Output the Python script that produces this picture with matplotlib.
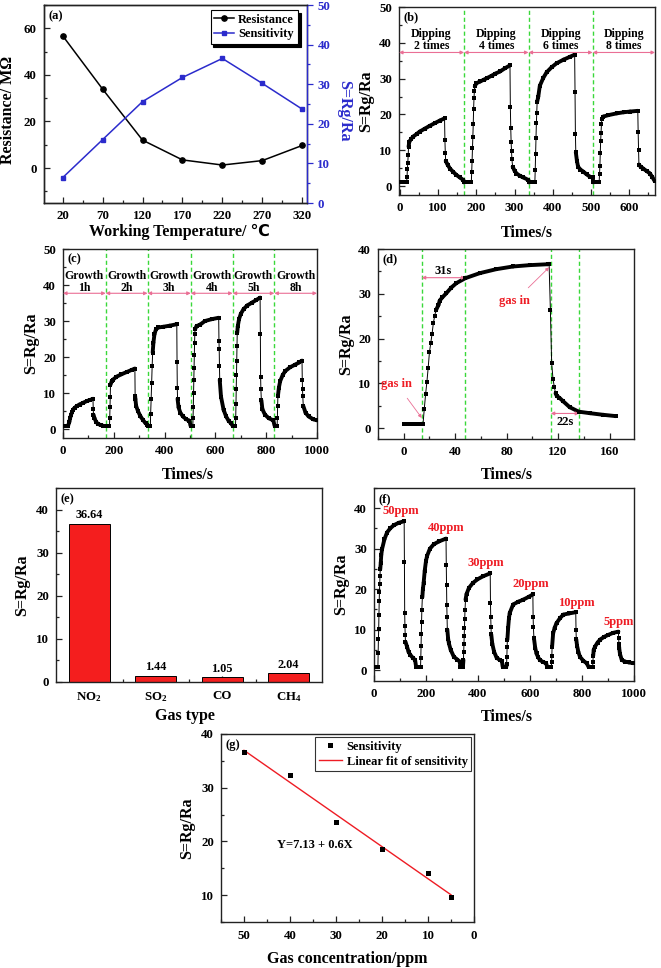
import numpy as np
import matplotlib
matplotlib.use("Agg")
import matplotlib.pyplot as plt
from matplotlib.collections import LineCollection
from matplotlib.ticker import MultipleLocator, FixedLocator

# ---------------- data ----------------
temps = [20, 70, 120, 170, 220, 270, 320]
resistance = [56.8, 33.9, 12.0, 3.5, 1.3, 3.2, 9.7]
sens_temp = [6.4, 16.0, 25.6, 31.7, 36.5, 30.2, 23.7]

b_t = [0, 4, 8, 12, 16, 18, 19, 20, 21, 22, 23, 25, 30, 35, 45, 52, 65, 78, 92, 105, 117,
       118, 119, 120, 125, 131, 140, 148, 157, 166, 168, 175, 182, 187,
       188, 189, 190, 191, 192, 193, 194, 195, 196, 200, 210, 220, 227, 240, 250, 262, 275, 288,
       289, 290, 291, 292, 293, 295, 300, 305, 315, 323, 336, 338, 344, 350, 353,
       354, 355, 356, 357, 358, 359, 362, 366, 375, 384, 397, 410, 428, 445, 457,
       458, 459, 460, 463, 466, 472, 480, 488, 497, 504, 506, 512, 518, 521,
       522, 523, 524, 525, 526, 527, 528, 532, 545, 567, 585, 602, 622,
       623, 624, 625, 630, 636, 645, 654, 660, 666]
b_s = [1, 1, 1, 1, 1, 1, 2.6, 4.9, 6.5, 8.7, 11.0, 12.4, 13.2, 13.8, 14.6, 15.2, 16.0, 16.8, 17.6, 18.3, 18.9,
       12.8, 9.2, 7.0, 6.0, 4.9, 3.9, 3.1, 2.4, 1.7, 1, 1, 1, 1,
       4.0, 7.0, 10.5, 13.8, 17.2, 21.5, 24.7, 26.5, 27.8, 28.7, 29.2, 29.7, 30.1, 30.8, 31.4, 32.0, 32.9, 33.7,
       22.0, 16.3, 12.3, 9.9, 7.5, 5.4, 4.3, 3.5, 2.8, 2.4, 1.7, 1, 1, 1, 1,
       4.5, 9.0, 13.4, 17.5, 20.5, 23.5, 25.0, 28.0, 30.2, 31.8, 33.2, 34.3, 35.3, 36.1, 36.7,
       26.4, 14.5, 9.5, 7.0, 5.4, 4.6, 4.0, 3.3, 2.6, 2.4, 1, 1, 1, 1,
       3.3, 5.6, 9.3, 12.7, 14.9, 17.2, 18.7, 19.4, 19.8, 20.3, 20.6, 20.8, 21.0,
       15.0, 10.2, 6.0, 5.3, 4.9, 4.2, 3.5, 2.5, 1.4]
b_marks = [168, 336.5, 504]
b_labels = ["Dipping\n2 times", "Dipping\n4 times", "Dipping\n6 times", "Dipping\n8 times"]

c_t = [0, 5, 10, 15, 20, 25, 28, 32, 36, 40, 46, 55, 65, 80, 95, 108, 118,
       119, 120, 124, 130, 138, 148, 158, 160, 167, 175, 183,
       184, 185, 186, 187, 192, 197, 210, 230, 250, 270, 283, 284, 285, 288, 295, 305, 315, 325, 332, 334, 340, 344,
       345, 347, 349, 351, 353, 356, 360, 366, 375, 395, 420, 448, 449, 450, 451, 455, 462, 472, 485, 498, 502, 507, 511,
       512, 513, 514, 515, 516, 517, 518, 519, 520, 526, 540, 559, 585, 613,
       614, 615, 616, 617, 622, 632, 642, 652, 660, 668, 674, 679,
       680, 681, 682, 683, 684, 685, 686, 688, 693, 700, 711, 725, 744, 760, 776,
       777, 778, 779, 781, 785, 795, 810, 828, 833, 838, 843,
       844, 845, 846, 850, 855, 865, 875, 895, 915, 930, 941, 942, 943, 944, 946, 955, 967, 985, 1000]
c_s = [0.9, 0.9, 0.9, 0.9, 0.9, 2.0, 3.0, 4.0, 4.8, 5.4, 5.9, 6.4, 6.8, 7.3, 7.8, 8.1, 8.4,
       5.6, 4.0, 3.0, 2.0, 1.4, 1.1, 0.9, 0.9, 0.9, 0.9, 0.9,
       3.0, 6.0, 9.0, 12.3, 13.3, 13.7, 14.5, 15.2, 15.8, 16.4, 16.8, 9.2, 8.3, 6.4, 5.0, 3.5, 2.5, 1.6, 1.2, 0.9, 0.9, 0.9,
       4.2, 8.2, 12.8, 17.5, 21.2, 24.0, 26.3, 27.7, 28.2, 28.4, 28.7, 29.1, 18.5, 11.4, 8.4, 6.0, 4.5, 3.5, 2.7, 2.3, 0.9, 0.9, 0.9,
       3.0, 6.0, 10.0, 13.5, 17.0, 20.5, 24.0, 26.5, 27.7, 28.6, 29.0, 30.0, 30.5, 30.9,
       24.4, 22.1, 17.5, 13.7, 9.0, 5.4, 3.5, 2.3, 1.7, 0.9, 0.9, 0.9,
       3.0, 7.0, 11.0, 15.0, 19.0, 23.0, 26.8, 28.5, 30.5, 32.0, 33.3, 34.3, 35.1, 35.8, 36.5,
       26.5, 14.5, 11.0, 8.0, 5.5, 4.0, 3.0, 2.4, 0.9, 0.9, 0.9,
       3.0, 6.5, 9.1, 11.5, 13.3, 15.0, 16.1, 17.2, 17.9, 18.5, 19.0, 13.7, 11.0, 9.1, 6.4, 4.5, 3.5, 2.7, 2.4]
c_marks = [168, 333, 503, 668, 832]
c_labels = ["Growth\n1h", "Growth\n2h", "Growth\n3h", "Growth\n4h", "Growth\n5h", "Growth\n8h"]

d_t = [0, 2, 4, 6, 8, 10, 12, 14, 15, 16, 17, 18, 19, 20, 21, 22, 23, 24, 25, 27, 28,
       30, 33, 37, 41, 48, 59, 72, 85, 98, 112, 113,
       114, 115, 116, 117, 118, 119, 121, 124, 129, 136, 145, 155, 165]
d_s = [1.0, 1.0, 1.0, 1.0, 1.0, 1.0, 1.0, 1.0, 1.0, 4.4, 7.6, 10.3, 13.5, 17.0, 19.0, 21.0, 23.4, 25.0, 26.3, 27.5, 28.5,
       29.2, 30.1, 31.4, 32.4, 33.5, 34.6, 35.5, 36.1, 36.4, 36.6, 36.7,
       26.4, 14.5, 11.1, 9.3, 7.8, 7.2, 6.8, 6.0, 4.7, 3.7, 3.35, 3.0, 2.7]
d_marks = [14, 48, 114.3, 136.4]

gases = ["NO$_2$", "SO$_2$", "CO", "CH$_4$"]
gas_resp = [36.64, 1.44, 1.05, 2.04]

f_t = [0, 4, 8, 12, 15, 16, 17, 18, 19, 20, 21, 22, 23, 24, 26, 28, 31, 40, 50, 62, 76, 95, 116,
       117, 118, 119, 120, 121, 127, 133, 140, 150, 158, 162, 168, 174, 179,
       180, 181, 182, 183, 184, 186, 188, 191, 195, 200, 204, 215, 230, 250, 277,
       278, 279, 280, 281, 282, 285, 288, 295, 307, 320, 330, 332, 337, 342,
       344, 345, 346, 347, 348, 349, 350, 352, 356, 365, 380, 397, 420, 447,
       448, 449, 450, 451, 455, 462, 472, 484, 492, 495, 500, 505, 509,
       510, 511, 512, 513, 516, 519, 522, 535, 555, 574, 595, 611,
       612, 613, 615, 620, 625, 631, 638, 650, 662, 666, 672, 678, 682,
       683, 684, 685, 689, 695, 702, 715, 728, 750, 776,
       777, 778, 781, 786, 792, 805, 818, 825, 831, 837, 841,
       842, 843, 845, 850, 860, 869, 885, 901, 920, 940,
       941, 942, 943, 946, 953, 965, 980, 997]
f_s = [0.8, 0.8, 0.8, 0.8, 0.8, 4.3, 7.6, 10.1, 13.6, 17.0, 19.4, 21.2, 23.3, 24.9, 26.5, 28.5, 29.9, 32.3, 34.0, 35.0, 35.8, 36.4, 36.8,
       26.6, 14.1, 10.8, 8.7, 7.0, 5.8, 4.5, 3.7, 3.0, 2.5, 0.8, 0.8, 0.8, 0.8,
       3.0, 6.0, 9.0, 12.0, 14.9, 18.0, 20.0, 21.6, 24.5, 27.0, 28.2, 30.0, 31.1, 31.8, 32.5,
       26.0, 21.0, 16.0, 13.0, 10.0, 7.8, 6.6, 5.0, 3.3, 2.6, 2.1, 0.8, 0.8, 0.8,
       2.5, 4.5, 6.5, 8.5, 10.5, 12.7, 14.9, 17.4, 18.8, 20.3, 21.5, 22.4, 23.2, 23.9,
       16.5, 13.0, 10.7, 8.8, 6.5, 4.5, 3.0, 2.5, 2.2, 0.8, 0.8, 0.8, 0.8,
       1.5, 3.3, 5.8, 7.5, 10.5, 12.8, 14.1, 16.2, 16.9, 17.4, 18.1, 18.7,
       13.2, 10.7, 8.0, 5.5, 4.1, 3.2, 2.5, 2.0, 1.7, 0.8, 0.8, 0.8, 0.8,
       2.0, 3.5, 5.8, 9.1, 10.5, 11.6, 12.8, 13.7, 14.0, 14.3,
       9.8, 7.6, 6.0, 4.5, 3.3, 2.3, 1.7, 0.8, 0.8, 0.8, 0.8,
       2.0, 3.5, 5.0, 5.8, 6.8, 7.5, 8.2, 8.7, 9.2, 9.5,
       8.0, 6.5, 5.5, 4.0, 2.5, 2.1, 1.9, 1.7]
f_labels = ["50ppm", "40ppm", "30ppm", "20ppm", "10ppm", "5ppm"]

conc = [50, 40, 30, 20, 10, 5]
conc_sens = [36.6, 32.4, 23.7, 18.6, 14.2, 9.6]

# ---------------- style ----------------
plt.rcParams["font.family"] = ["Liberation Serif", "DejaVu Sans"]
plt.rcParams["font.weight"] = "bold"
plt.rcParams["axes.labelweight"] = "bold"
plt.rcParams["mathtext.fontset"] = "custom"
plt.rcParams["mathtext.rm"] = "Liberation Serif:bold"
plt.rcParams["mathtext.it"] = "Liberation Serif:bold"
plt.rcParams["mathtext.bf"] = "Liberation Serif:bold"

BLUE = "#2b2bcc"
GREEN = "#3ad83a"
PINK = "#ea6f95"
RED = "#ee1c24"
BAR = "#f41e1e"
TICK_FS = 9.3
LAB_FS = 11.5

FW, FH = 661, 968
fig = plt.figure(figsize=(FW / 100, FH / 100), dpi=100)


def add_ax(x0, y0, x1, y1):
    return fig.add_axes([x0 / FW, 1 - y1 / FH, (x1 - x0) / FW, (y1 - y0) / FH])


def setup(ax, xmaj=None, xmin=None, ymaj=None, ymin=None):
    if xmaj:
        ax.xaxis.set_major_locator(MultipleLocator(xmaj))
    if xmin:
        ax.xaxis.set_minor_locator(MultipleLocator(xmin))
    if ymaj:
        ax.yaxis.set_major_locator(MultipleLocator(ymaj))
    if ymin:
        ax.yaxis.set_minor_locator(MultipleLocator(ymin))
    ax.tick_params(which="both", direction="in", top=False, right=False,
                   labelsize=TICK_FS, width=0.9, color="#222222")
    ax.tick_params(which="major", length=4.5, pad=5)
    ax.tick_params(which="minor", length=2.5)
    for sp in ax.spines.values():
        sp.set_linewidth(1.0)
        sp.set_color("#222222")


def labels(ax, xl, yl, xy, yx, xx=0.5, yy=0.5):
    ax.set_xlabel(xl, fontsize=LAB_FS)
    ax.xaxis.set_label_coords(xx, xy)
    ax.xaxis.label.set_va("center")
    ax.set_ylabel(yl, fontsize=LAB_FS)
    ax.yaxis.set_label_coords(yx, yy)
    ax.yaxis.label.set_va("center")


def panel(ax, s):
    ax.text(0.018, 0.975, s, transform=ax.transAxes, va="top", ha="left",
            fontsize=9, fontweight="bold")


def draw_ts(ax, t, s):
    t = np.asarray(t, float)
    s = np.asarray(s, float)
    pts = np.column_stack([t, s])
    segs = np.stack([pts[:-1], pts[1:]], axis=1)
    rate = np.abs(np.diff(s)) / np.diff(t)
    lw = np.where(rate > 1.0, 0.7, 2.8)
    ax.add_collection(LineCollection(segs, linewidths=lw, colors="black",
                                     capstyle="round", joinstyle="round", zorder=3))
    ax.plot(t, s, "s", color="black", ms=3.0, mew=0, zorder=4)


def dbl_arrow(ax, x0, x1, y):
    ax.annotate("", xy=(x1, y), xytext=(x0, y),
                arrowprops=dict(arrowstyle="<|-|>", color=PINK, lw=0.8,
                                mutation_scale=5, shrinkA=0, shrinkB=0))


def segments(ax, marks, texts, y_arrow, y_text):
    x0, x1 = ax.get_xlim()
    bounds = [x0] + list(marks) + [x1]
    for m in marks:
        ax.axvline(m, color=GREEN, lw=1.0, ls=(0, (3, 2)), zorder=2)
    for i, txt in enumerate(texts):
        dbl_arrow(ax, bounds[i], bounds[i + 1], y_arrow)
        ax.text((bounds[i] + bounds[i + 1]) / 2, y_text, txt, ha="center", va="center",
                fontsize=8.5, fontweight="bold", linespacing=1.05)


# ---------------- (a) ----------------
ax = add_ax(43.5, 5, 307, 203)
ax.set_xlim(-4, 326)
ax.set_ylim(-15, 70)
setup(ax, None, None, 20, 10)
ax.xaxis.set_major_locator(FixedLocator(temps))
ax.xaxis.set_minor_locator(FixedLocator(list(np.array(temps[:-1]) + 25)))
h1, = ax.plot(temps, resistance, "-o", color="black", ms=3.8, lw=1.1, label="Resistance")
ax2 = ax.twinx()
ax2.set_ylim(0, 50)
h2, = ax2.plot(temps, sens_temp, "-s", color=BLUE, ms=3.5, lw=1.1, label="Sensitivity")
ax2.yaxis.set_major_locator(MultipleLocator(10))
ax2.yaxis.set_minor_locator(MultipleLocator(5))
ax2.tick_params(which="both", direction="out", colors=BLUE, labelsize=TICK_FS, width=0.9)
ax2.tick_params(which="major", length=4.5, pad=3)
ax2.tick_params(which="minor", length=2.5)
for k, sp in ax2.spines.items():
    sp.set_linewidth(1.0)
    sp.set_color("#222222")
ax2.spines["right"].set_color(BLUE)
ax2.set_ylabel("S=Rg/Ra", fontsize=LAB_FS, color=BLUE, rotation=270)
ax2.yaxis.set_label_coords(1.14, 0.465)
ax2.yaxis.label.set_va("center")
labels(ax, "Working Temperature/ \u2103", "Resistance/ M\u03a9", -0.145, -0.135, 0.516, 0.47)
leg = ax2.legend([h1, h2], ["Resistance", "Sensitivity"], loc="upper right",
                 bbox_to_anchor=(0.965, 0.975), fontsize=9, frameon=True, fancybox=False,
                 shadow={"color": "black", "alpha": 1.0}, handlelength=1.6,
                 borderpad=0.3, labelspacing=0.2, handletextpad=0.3, borderaxespad=0)
leg.get_frame().set_edgecolor("black")
leg.get_frame().set_linewidth(0.8)
panel(ax, "(a)")

# ---------------- (b) ----------------
ax = add_ax(399, 7, 655, 195)
ax.set_xlim(-2, 667)
ax.set_ylim(-2.5, 50)
setup(ax, 100, 50, 10, 5)
draw_ts(ax, b_t, b_s)
segments(ax, b_marks, b_labels, 37.3, 40.85)
labels(ax, "Times/s", "S=Rg/Ra", -0.2, -0.129)
panel(ax, "(b)")

# ---------------- (c) ----------------
ax = add_ax(63, 249, 317, 438)
ax.set_xlim(0, 1000)
ax.set_ylim(-2.5, 50)
setup(ax, 200, 100, 10, 5)
draw_ts(ax, c_t, c_s)
segments(ax, c_marks, c_labels, 37.7, 40.85)
labels(ax, "Times/s", "S=Rg/Ra", -0.196, -0.126, 0.49)
panel(ax, "(c)")

# ---------------- (d) ----------------
ax = add_ax(378, 249, 634, 439)
ax.set_xlim(-20, 179)
ax.set_ylim(-2.4, 40)
setup(ax, 40, 20, 10, 5)
for m in d_marks:
    ax.axvline(m, color=GREEN, lw=1.0, ls=(0, (3, 2)), zorder=2)
draw_ts(ax, d_t, d_s)
dbl_arrow(ax, d_marks[0], d_marks[1], 33.6)
dbl_arrow(ax, d_marks[2], d_marks[3], 3.3)
ax.text((d_marks[0] + d_marks[1]) / 2, 35.2, "31s", ha="center", va="center", fontsize=9)
ax.text((d_marks[2] + d_marks[3]) / 2, 1.5, "22s", ha="center", va="center", fontsize=9)
ax.annotate("gas in", xy=(14, 2.3), xytext=(-5.5, 9.9), ha="center", va="center",
            color=RED, fontsize=9,
            arrowprops=dict(arrowstyle="-|>", color=PINK, lw=0.6, mutation_scale=5,
                            shrinkA=5, shrinkB=0))
ax.annotate("gas in", xy=(113, 35.9), xytext=(86, 28.3), ha="center", va="center",
            color=RED, fontsize=9,
            arrowprops=dict(arrowstyle="-|>", color=PINK, lw=0.6, mutation_scale=5,
                            shrinkA=5, shrinkB=0))
labels(ax, "Times/s", "S=Rg/Ra", -0.19, -0.125, 0.504)
panel(ax, "(d)")

# ---------------- (e) ----------------
ax = add_ax(56, 488, 322, 682)
xpos = np.arange(len(gases))
ax.bar(xpos, gas_resp, width=0.61, color=BAR, edgecolor="black", linewidth=0.7, zorder=2)
for xi, v in zip(xpos, gas_resp):
    ax.text(xi, v + 0.6, f"{v:.2f}", ha="center", va="bottom", fontsize=8.8)
ax.set_xlim(-0.5, len(gases) - 0.5)
ax.set_ylim(0, 45)
setup(ax, None, None, 10, 5)
ax.set_xticks(xpos)
ax.set_xticklabels(gases)
ax.xaxis.set_minor_locator(FixedLocator(list(xpos[:-1] + 0.5)))
ax.tick_params(axis="x", which="major", pad=6)
for tl in ax.get_xticklines():
    tl.set_zorder(5)
labels(ax, "Gas type", "S=Rg/Ra", -0.175, -0.126, 0.485)
panel(ax, "(e)")

# ---------------- (f) ----------------
ax = add_ax(374, 488, 634, 681)
ax.set_xlim(0, 1000)
ax.set_ylim(-2.7, 45)
setup(ax, 200, 100, 10, 5)
draw_ts(ax, f_t, f_s)
f_lab_pos = [(33.5, 39.4), (207, 35.0), (361, 26.4), (534, 21.3), (707, 16.6), (884, 12.0)]
for txt, (x, y) in zip(f_labels, f_lab_pos):
    ax.text(x, y, txt, color=RED, ha="left", va="center", fontsize=9)
labels(ax, "Times/s", "S=Rg/Ra", -0.184, -0.127, 0.51)
panel(ax, "(f)")

# ---------------- (g) ----------------
ax = add_ax(221, 734, 474, 922)
ax.set_xlim(55, 0)
ax.set_ylim(5, 40)
setup(ax, 10, 5, 10, 5)
ax.tick_params(axis="x", which="major", pad=6)
hp, = ax.plot(conc, conc_sens, "s", color="black", ms=3.6, mew=0, label="Sensitivity", zorder=4)
coef = np.polyfit(conc, conc_sens, 1)
xs = np.array([max(conc), min(conc)])
hl, = ax.plot(xs, np.polyval(coef, xs), color=RED, lw=1.0, label="Linear fit of sensitivity", zorder=3)
ax.text(42.8, 19.4, "Y=7.13 + 0.6X", ha="left", va="center", fontsize=9)
lg = ax.legend(loc="upper right", bbox_to_anchor=(0.99, 0.985), fontsize=9, fancybox=False,
               handlelength=1.8, borderpad=0.3, labelspacing=0.25, handletextpad=0.4, borderaxespad=0)
lg.get_frame().set_edgecolor("black")
lg.get_frame().set_linewidth(0.8)
labels(ax, "Gas concentration/ppm", "S=Rg/Ra", -0.197, -0.132, 0.498)
panel(ax, "(g)")

fig.savefig("out.png", dpi=100)
